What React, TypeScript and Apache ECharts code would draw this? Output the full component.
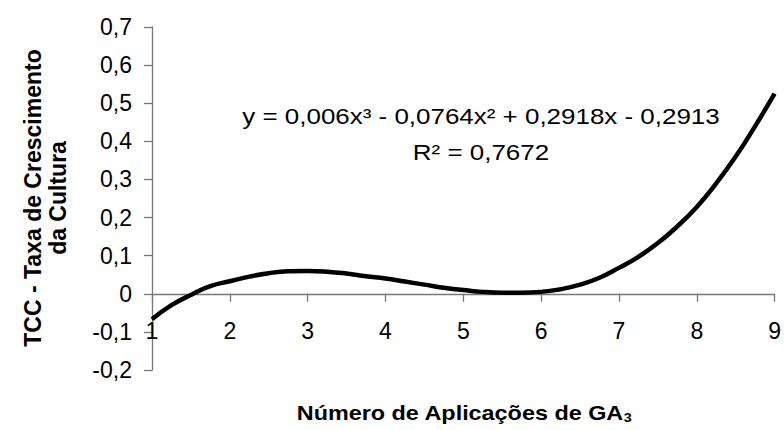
import React, { useEffect, useRef } from "react";
import * as echarts from "echarts";

const xValues = [1, 1.25, 1.5, 1.75, 2, 2.25, 2.5, 2.75, 3, 3.25, 3.5, 3.75, 4, 4.25, 4.5, 4.75, 5, 5.25, 5.5, 5.75, 6, 6.25, 6.5, 6.75, 7, 7.25, 7.5, 7.75, 8, 8.25, 8.5, 8.75, 9];
const tccValues = [-0.067, -0.03, -0.003, 0.02, 0.033, 0.045, 0.054, 0.059, 0.06, 0.058, 0.053, 0.046, 0.04, 0.032, 0.024, 0.016, 0.01, 0.005, 0.003, 0.003, 0.005, 0.012, 0.024, 0.042, 0.068, 0.097, 0.133, 0.177, 0.228, 0.29, 0.36, 0.44, 0.525];

const yAxisTitleLines = ["TCC - Taxa de Crescimento", "da Cultura"];
const xAxisTitle = "Número de Aplicações de GA";
const xAxisTitleSub = "3";
const equationText = "y = 0,006x³ - 0,0764x² + 0,2918x - 0,2913";
const r2Text = "R² = 0,7672";

const FONT = "'Liberation Sans', Arial, sans-serif";
const Y_MIN = -0.2;
const Y_MAX = 0.7;
const GRID_TOP = 27;
const GRID_BOTTOM = 60;
const CHART_H = 430;

export default function App() {
  const ref = useRef<HTMLDivElement>(null);
  useEffect(() => {
    if (!ref.current) return;
    const chart = echarts.init(ref.current, null, { renderer: "svg" });
    const data = xValues.map((x, i) => [x, tccValues[i]]);
    const gridH = CHART_H - GRID_TOP - GRID_BOTTOM;
    const zeroOffset = -(gridH * (0 - Y_MIN)) / (Y_MAX - Y_MIN);
    chart.setOption({
      animation: false,
      backgroundColor: "#ffffff",
      textStyle: { fontFamily: FONT },
      grid: { left: 152, right: 7, top: GRID_TOP, bottom: GRID_BOTTOM, containLabel: false },
      xAxis: {
        type: "value",
        min: 1,
        max: 9,
        interval: 1,
        offset: zeroOffset,
        axisLine: { show: true, onZero: false, lineStyle: { color: "#777777", width: 1.3 } },
        axisTick: { show: true, inside: false, length: 8, lineStyle: { color: "#777777", width: 1.3 } },
        axisLabel: { margin: 26, fontSize: 23, color: "#000000", fontFamily: FONT },
        splitLine: { show: false },
      },
      yAxis: {
        type: "value",
        min: Y_MIN,
        max: Y_MAX,
        interval: 0.1,
        axisLine: { show: true, onZero: false, lineStyle: { color: "#777777", width: 1.3 } },
        axisTick: { show: true, inside: false, length: 8, lineStyle: { color: "#777777", width: 1.3 } },
        axisLabel: {
          margin: 20,
          fontSize: 23,
          color: "#000000",
          fontFamily: FONT,
          formatter: (v: number) => {
            const r = Math.round(v * 10) / 10;
            if (r === 0) return "0";
            return r.toFixed(1).replace(".", ",");
          },
        },
        splitLine: { show: false },
      },
      series: [
        {
          type: "line",
          data,
          smooth: true,
          showSymbol: false,
          lineStyle: { color: "#000000", width: 4.5 },
        },
      ],
      graphic: [
        {
          type: "text",
          x: 481,
          y: 116,
          scaleX: 1.18,
          style: {
            text: equationText,
            fontSize: 22,
            fontFamily: FONT,
            fill: "#000000",
            align: "center",
            verticalAlign: "middle",
          },
        },
        {
          type: "text",
          x: 481,
          y: 152,
          scaleX: 1.18,
          style: {
            text: r2Text,
            fontSize: 22,
            fontFamily: FONT,
            fill: "#000000",
            align: "center",
            verticalAlign: "middle",
          },
        },
        {
          type: "text",
          x: 45.5,
          y: 198,
          rotation: Math.PI / 2,
          style: {
            text: yAxisTitleLines.join("\n"),
            fontSize: 23,
            fontWeight: "bold",
            fontFamily: FONT,
            fill: "#000000",
            align: "center",
            verticalAlign: "middle",
            lineHeight: 25,
          },
        },
        {
          type: "text",
          x: 464,
          y: 412,
          scaleX: 1.2,
          style: {
            text: "{a|" + xAxisTitle + "}{s|" + xAxisTitleSub + "}",
            align: "center",
            verticalAlign: "middle",
            rich: {
              a: { fontSize: 19.5, fontWeight: "bold", fontFamily: FONT, fill: "#000000", lineHeight: 24, verticalAlign: "bottom" },
              s: { fontSize: 12, fontWeight: "bold", fontFamily: FONT, fill: "#000000", lineHeight: 12, verticalAlign: "bottom" },
            },
          },
        },
      ],
    });
    return () => chart.dispose();
  }, []);
  return <div ref={ref} style={{ width: 784, height: 430, position: "absolute", left: 0, top: 0 }} />;
}
